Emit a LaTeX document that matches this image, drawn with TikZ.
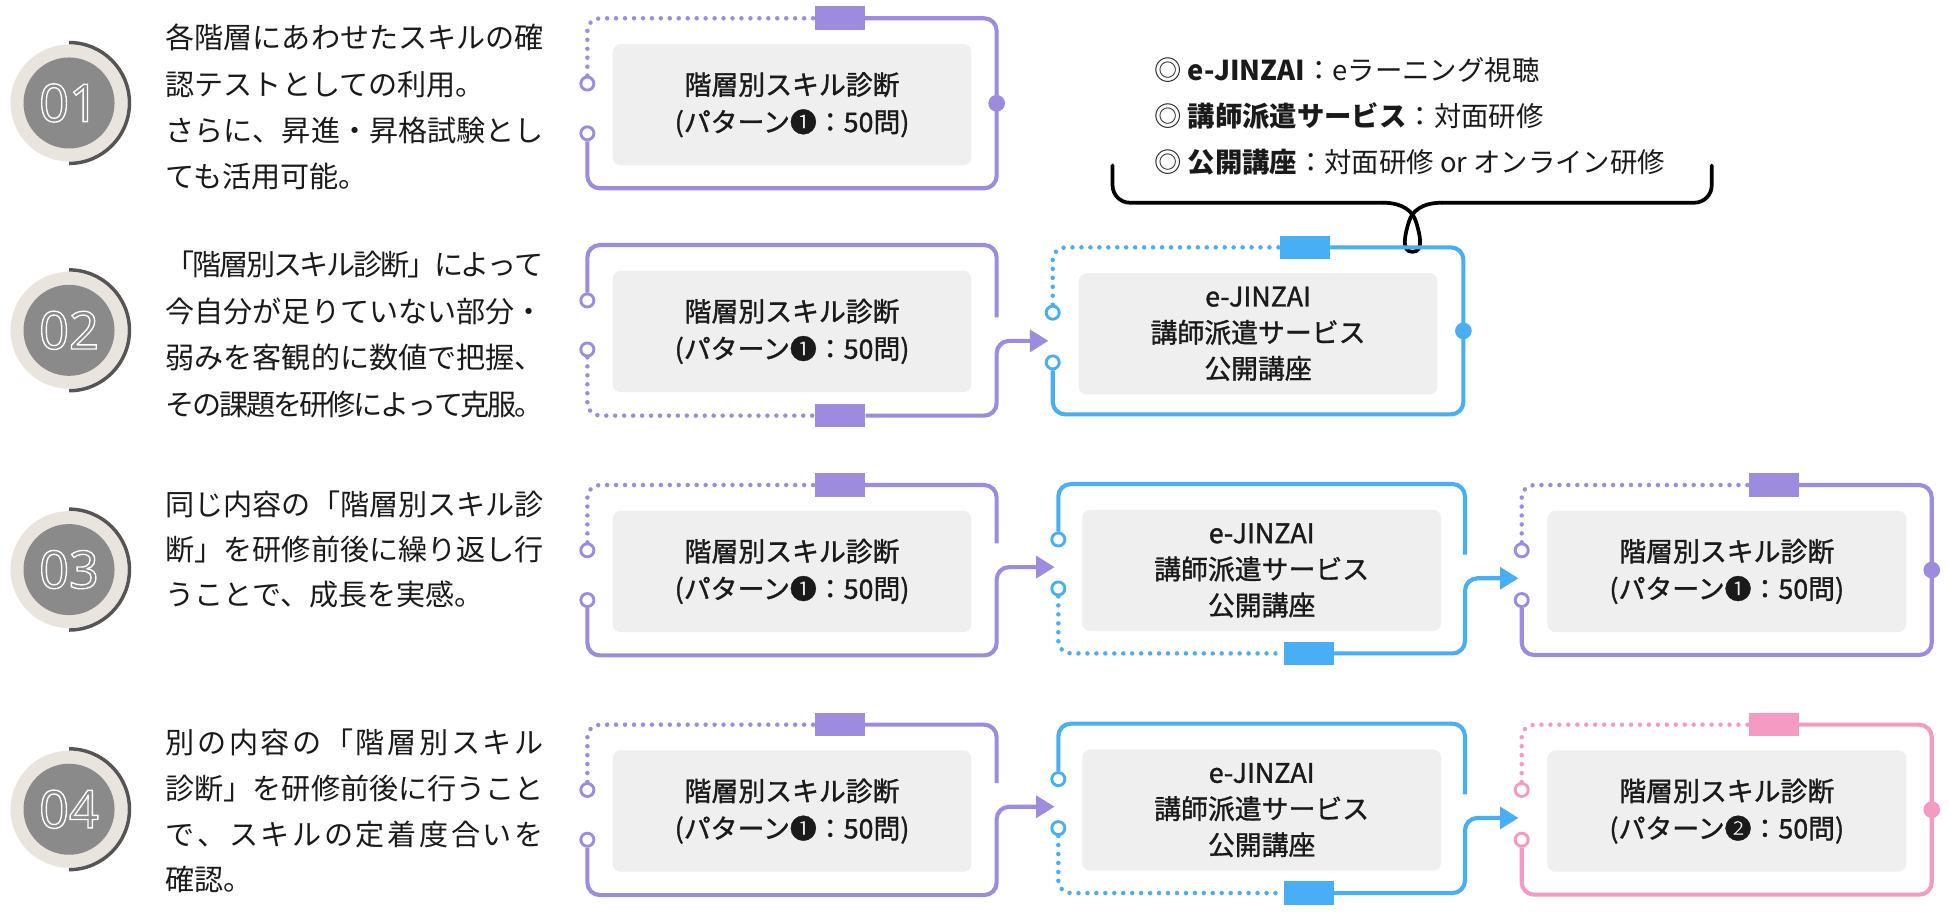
\documentclass[tikz,border=0pt]{standalone}
\usepackage{fontspec}
\usetikzlibrary{arrows.meta}
\newfontfamily\jp{Noto Sans CJK JP}
\newfontfamily\jpm[FakeBold=1.2]{Noto Sans CJK JP}
\newfontfamily\numf{Noto Sans}
\definecolor{pur}{HTML}{9D8BDF}
\definecolor{blu}{HTML}{48AEF5}
\definecolor{pnk}{HTML}{F59BC3}
\definecolor{boxg}{HTML}{EFEFEF}
\definecolor{beige}{HTML}{EAE4DF}
\definecolor{cgray}{HTML}{8A8A8A}
\definecolor{darc}{HTML}{555555}
\definecolor{txt}{HTML}{1A1A1A}
\makeatletter
\def\jsp@aux#1{\ifx#1\relax\unskip\else#1\hskip 0pt plus 1fil minus 1fil\relax\expandafter\jsp@aux\fi}
\newcommand{\jline}[1]{\makebox[304pt][s]{\jsp@aux#1\relax}}
\makeatother
\newcommand{\onum}[1]{\special{pdf:literal direct 1 Tr 1.1 w}#1\special{pdf:literal direct 0 Tr}}
\tikzset{
  solidl/.style={line width=3.3pt, rounded corners=10pt},
  dotl/.style={line width=3.6pt, line cap=round, dash pattern=on 0pt off 7.2pt, rounded corners=10pt},
  ocirc/.style={circle, fill=white, line width=2.3pt, minimum size=10.5pt, inner sep=0pt},
  fdot/.style={circle, minimum size=13.4pt, inner sep=0pt},
  sqr/.style={minimum width=40.2pt, minimum height=19pt, inner sep=0pt},
  gbox/.style={fill=boxg, rounded corners=6.5pt, minimum width=288.5pt, minimum height=97.5pt, inner sep=0pt, align=center, text=txt},
  two/.style={font=\jpm\fontsize{21.6}{30}\selectfont},
  three/.style={font=\jpm\fontsize{21.6}{29}\selectfont},
  ltext/.style={font=\jp\fontsize{23.4}{28}\selectfont, inner sep=0pt, text=txt, anchor=base west},
  btext/.style={font=\jp\fontsize{22}{28}\selectfont, inner sep=0pt, text=txt, anchor=base west},
  bracel/.style={line width=3pt, line cap=round, black},
  numc/.style={circle, fill=beige, minimum size=94pt, inner sep=0pt},
  numi/.style={circle, fill=cgray, minimum size=73.2pt, inner sep=0pt, text=white, font=\numf\fontsize{42}{42}\selectfont},
  tip/.style={-{Triangle[length=14.8pt,width=17.4pt]}}
}
% type C: square on top, dot on right
\newcommand{\frameC}[7]{%
  \node[ocirc, draw=#2] (#1u) at (#3,#5+52.5) {};
  \node[ocirc, draw=#2] (#1l) at (#3,#5+92.5) {};
  \node[sqr, fill=#2, anchor=west] (#1s) at (#7,#5) {};
  \node[fdot, fill=#2] (#1d) at (#4,{(#5+#6)/2}) {};
  \draw[dotl, draw=#2] (#1u.north) -- (#3,#5) -- (#1s.west);
  \draw[solidl, draw=#2] (#1s.east) -- (#4,#5) -- (#4,#6) -- (#3,#6) -- (#1l.south);
}
% type A: square at bottom, arrow out on right
\newcommand{\frameA}[9]{%
  \node[ocirc, draw=#2] (#1u) at (#3,#5+44.6) {};
  \node[ocirc, draw=#2] (#1l) at (#3,#5+84) {};
  \node[sqr, fill=#2, anchor=west] (#1s) at (#7,#6) {};
  \coordinate (#1g) at (#4,#8-19);
  \coordinate (#1t) at (#9,#8);
  \draw[solidl, draw=#2] (#1u.north) -- (#3,#5) -- (#4,#5) -- (#1g);
  \draw[dotl, draw=#2] (#1l.south) -- (#3,#6) -- (#1s.west);
  \draw[solidl, draw=#2, tip] (#1s.east) -- (#4,#6) -- (#4,#8) -- (#1t);
}
% type D: square on top, arrow out on right
\newcommand{\frameD}[9]{%
  \node[ocirc, draw=#2] (#1u) at (#3,#5+52.5) {};
  \node[ocirc, draw=#2] (#1l) at (#3,#5+92.5) {};
  \node[sqr, fill=#2, anchor=west] (#1s) at (#7,#5) {};
  \coordinate (#1g) at (#4,#8-19);
  \coordinate (#1t) at (#9,#8);
  \draw[dotl, draw=#2] (#1u.north) -- (#3,#5) -- (#1s.west);
  \draw[solidl, draw=#2] (#1s.east) -- (#4,#5) -- (#1g);
  \draw[solidl, draw=#2, tip] (#1l.south) -- (#3,#6) -- (#4,#6) -- (#4,#8) -- (#1t);
}
\newcommand{\numcircle}[3]{%
  \node[numc] (#1) at (55.5,#2) {};
  \node[numi] (#1i) at (#1) {\onum{#3}};
  \draw[darc, line width=2.8pt] (#1.center) ++(0,-48.6) arc[start angle=-90, end angle=90, radius=48.6];
}
\begin{document}
\begin{tikzpicture}[x=1pt,y=-1pt]
\useasboundingbox (0,0) rectangle (1568,737.35);
\fill[white] (0,0) rectangle (1568,737.35);

% number circles
\numcircle{n1}{82.8}{01}
\numcircle{n2}{265.6}{02}
\numcircle{n3}{458}{03}
\numcircle{n4}{650.7}{04}

% left texts
\node[ltext] (t1a) at (133,38.7) {\jline{各階層にあわせたスキルの確}};
\node[ltext] (t1b) at (133,76.7) {認テストとしての利用。};
\node[ltext] (t1c) at (133,113.7) {\jline{さらに、昇進・昇格試験とし}};
\node[ltext] (t1d) at (133,150.7) {ても活用可能。};

\node[ltext] (t2a) at (133,221.7) {\jline{「階層別スキル診断」によって}};
\node[ltext] (t2b) at (133,259.7) {\jline{今自分が足りていない部分・}};
\node[ltext] (t2c) at (133,296.7) {\jline{弱みを客観的に数値で把握、}};
\node[ltext] (t2d) at (133,333.7) {\jline{その課題を研修によって克服。}};

\node[ltext] (t3a) at (133,414.7) {\jline{同じ内容の「階層別スキル診}};
\node[ltext] (t3b) at (133,450.7) {\jline{断」を研修前後に繰り返し行}};
\node[ltext] (t3c) at (133,486.7) {うことで、成長を実感。};

\node[ltext] (t4a) at (133,605.7) {\jline{別の内容の「階層別スキル}};
\node[ltext] (t4b) at (133,642.7) {\jline{診断」を研修前後に行うこと}};
\node[ltext] (t4c) at (133,679.7) {\jline{で、スキルの定着度合いを}};
\node[ltext] (t4d) at (133,715.7) {確認。};

% brace texts
\node[btext] (b1) at (928,65.1) {◎ {\bfseries e-JINZAI}：eラーニング視聴};
\node[btext] (b2) at (928,102.1) {◎ {\bfseries 講師派遣サービス}：対面研修};
\node[btext] (b3) at (928,139.1) {◎ {\bfseries 公開講座}：対面研修 or オンライン研修};

% brace
\draw[bracel, rounded corners=14pt] (894.6,133) -- (894.6,163) -- (1112,163);
\draw[bracel, rounded corners=14pt] (1159.5,163) -- (1376.4,163) -- (1376.4,133);
\draw[bracel] (1112,163) .. controls (1128,163) and (1136,170) .. (1138.5,178)
  .. controls (1142,189) and (1145,202.5) .. (1135.8,202.5)
  .. controls (1126.5,202.5) and (1129.5,189) .. (1133,178)
  .. controls (1135.5,170) and (1143,163) .. (1159.5,163);

% gray boxes
\node[gbox, two] (g1a) at (636.9,84.2) {階層別スキル診断\\(パターン❶：50問)};
\node[gbox, two] (g2a) at (636.9,266.5) {階層別スキル診断\\(パターン❶：50問)};
\node[gbox, three] (g2b) at (1011.6,268.4) {e-JINZAI\\講師派遣サービス\\公開講座};
\node[gbox, two] (g3a) at (636.9,459.5) {階層別スキル診断\\(パターン❶：50問)};
\node[gbox, three] (g3b) at (1014.5,458.7) {e-JINZAI\\講師派遣サービス\\公開講座};
\node[gbox, two] (g3c) at (1388.5,459.5) {階層別スキル診断\\(パターン❶：50問)};
\node[gbox, two] (g4a) at (636.9,652.2) {階層別スキル診断\\(パターン❶：50問)};
\node[gbox, three] (g4b) at (1014.5,651.4) {e-JINZAI\\講師派遣サービス\\公開講座};
\node[gbox, two] (g4c) at (1388.5,652.2) {階層別スキル診断\\(パターン❷：50問)};

% frames
\frameC{f1a}{pur}{472.3}{801.4}{14.7}{151.4}{654.8}
\frameA{f2a}{pur}{472.3}{801.4}{197}{334.2}{655.4}{274.1}{843}
\frameC{f2b}{blu}{846.5}{1176.7}{198.9}{333.2}{1028.7}
\frameD{f3a}{pur}{472.3}{801.4}{390}{527}{655}{456}{848}
\frameA{f3b}{blu}{851}{1178}{389.2}{525.4}{1032}{465}{1221}
\frameC{f3c}{pur}{1223.6}{1553.3}{390}{526.7}{1405.9}
\frameD{f4a}{pur}{472.3}{801.4}{582.7}{719.7}{655}{648.7}{848}
\frameA{f4b}{blu}{851}{1178}{581.9}{718.1}{1032}{657.7}{1221}
\frameC{f4c}{pnk}{1223.6}{1553.3}{582.7}{719.4}{1405.9}
\end{tikzpicture}
\end{document}
